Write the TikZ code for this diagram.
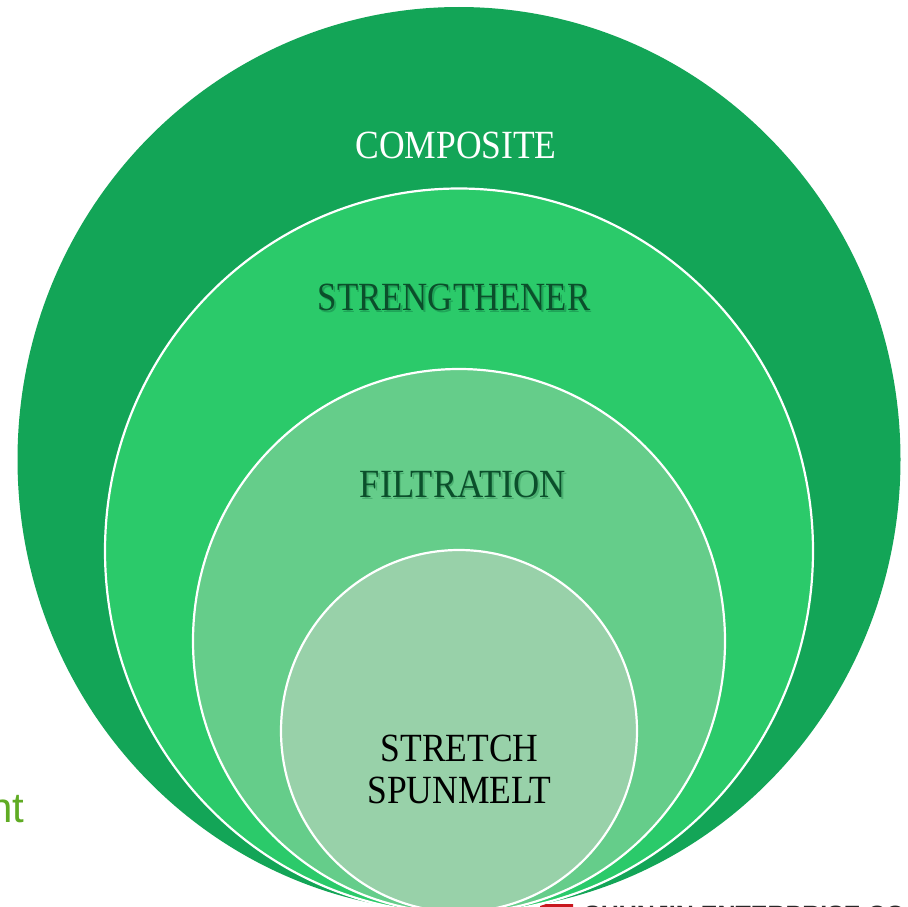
\documentclass[tikz,border=0pt]{standalone}
\usepackage{fontspec}
\setmainfont{Liberation Serif}
\newfontfamily\sansf{Liberation Sans}
\definecolor{cA}{HTML}{13A557}
\definecolor{cB}{HTML}{2BCA6A}
\definecolor{cC}{HTML}{65CD8A}
\definecolor{cD}{HTML}{98D1A9}
\definecolor{txtdark}{HTML}{0B4F2B}
\definecolor{shadowc}{HTML}{1FA558}
\definecolor{shadowd}{HTML}{4AAF70}
\definecolor{greent}{HTML}{5FAB23}
\definecolor{redc}{HTML}{C8161D}
\tikzset{
  ring/.style={draw=white,line width=2.2pt},
  lab/.style={font=\fontsize{40}{40}\selectfont,inner sep=0pt,align=center},
}
\begin{document}
\begin{tikzpicture}[x=1pt,y=-1pt]
\useasboundingbox (0,0) rectangle (908,907);
\clip (0,0) rectangle (908,907);
\fill[white] (0,0) rectangle (908,907);
\node[anchor=base west,inner sep=0pt,text=greent,font=\sansf\fontsize{42}{42}\selectfont] (frag) at (-11,822) {nt};
\fill[redc] (540,906) -- (546,904) -- (573,904) -- (573,908) -- (540,908) -- cycle;
\node[anchor=base west,inner sep=0pt,text=black!85,font=\sansf\bfseries\fontsize{25}{25}\selectfont] (co) at (584,923.5) {SHUNJIN ENTERPRISE CO., LTD};
\fill[cA] (459,459.5) ellipse [x radius=441.5,y radius=452.5];
\filldraw[ring,fill=cB] (459,551) ellipse [x radius=354,y radius=362.5];
\filldraw[ring,fill=cC] (459,641) ellipse [x radius=266,y radius=272];
\filldraw[ring,fill=cD] (459,731) ellipse [x radius=178,y radius=181];
\node[lab,text=white] (comp) at (456,145) {\scalebox{0.888}[1]{COMPOSITE}};
\node[lab,text=shadowc] at (455.5,299.5) {\scalebox{0.87}[1]{STRENGTHENER}};
\node[lab,text=txtdark] (stren) at (454,297.5) {\scalebox{0.87}[1]{STRENGTHENER}};
\node[lab,text=shadowd] at (464.5,486.5) {\scalebox{0.907}[1]{FILTRATION}};
\node[lab,text=txtdark] (filt) at (463,484.5) {\scalebox{0.907}[1]{FILTRATION}};
\node[lab,text=black,font=\fontsize{40}{42}\selectfont] (spun) at (459.5,769.5) {\scalebox{0.888}[1]{STRETCH}\\\scalebox{0.888}[1]{SPUNMELT}};
\end{tikzpicture}
\end{document}
